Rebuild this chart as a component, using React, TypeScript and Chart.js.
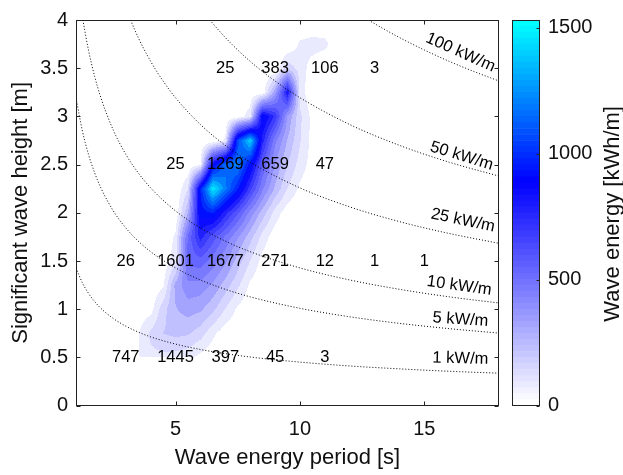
import React, { useEffect, useRef } from "react";
import { Chart, registerables } from "chart.js";

Chart.register(...registerables);

const FONT = "'Liberation Sans', Arial, Helvetica, sans-serif";
const INK = "#111111";

// ---- axes ----
const teAxisTicks = [5, 10, 15];
const hsAxisTicks = [0, 0.5, 1, 1.5, 2, 2.5, 3, 3.5, 4];
const colorbarTicks = [0, 500, 1000, 1500];
const energyMax = 1530;
const contourLevelCount = 20;

// ---- energy field (kWh/m) on a Te x Hs grid ----
const gridTe = [3, 3.5, 4, 4.5, 5, 5.5, 6, 6.5, 7, 7.5, 8, 8.5, 9, 9.5, 10, 10.5, 11, 11.5, 12];
const gridHs = [0.5, 0.75, 1, 1.25, 1.5, 1.75, 2, 2.25, 2.5, 2.75, 3, 3.25, 3.5, 3.75, 4];
const energyHs050 = [20, 70, 130, 130, 120, 100, 50, 20, 5, 0, 0, 0, 0, 0, 0, 0, 0, 0, 0];
const energyHs075 = [30, 70, 170, 230, 250, 240, 190, 95, 30, 5, 0, 0, 0, 0, 0, 0, 0, 0, 0];
const energyHs100 = [10, 30, 45, 200, 300, 340, 320, 250, 150, 60, 15, 0, 0, 0, 0, 0, 0, 0, 0];
const energyHs125 = [0, 10, 15, 60, 330, 440, 430, 370, 270, 170, 60, 15, 0, 0, 0, 0, 0, 0, 0];
const energyHs150 = [0, 0, 5, 20, 120, 560, 580, 500, 400, 270, 150, 45, 10, 0, 0, 0, 0, 0, 0];
const energyHs175 = [0, 0, 0, 10, 90, 550, 800, 650, 520, 390, 260, 120, 30, 0, 0, 0, 0, 0, 0];
const energyHs200 = [0, 0, 0, 0, 20, 300, 950, 1000, 800, 620, 430, 270, 120, 30, 0, 0, 0, 0, 0];
const energyHs225 = [0, 0, 0, 0, 5, 150, 1000, 1520, 1250, 1000, 720, 470, 290, 150, 60, 10, 0, 0, 0];
const energyHs250 = [0, 0, 0, 0, 0, 10, 70, 900, 1200, 1250, 950, 600, 380, 230, 120, 40, 0, 0, 0];
const energyHs275 = [0, 0, 0, 0, 0, 0, 0, 10, 90, 1100, 1450, 800, 480, 300, 160, 50, 0, 0, 0];
const energyHs300 = [0, 0, 0, 0, 0, 0, 0, 0, 0, 30, 120, 950, 750, 380, 170, 50, 0, 0, 0];
const energyHs325 = [0, 0, 0, 0, 0, 0, 0, 0, 0, 0, 10, 20, 350, 850, 120, 10, 0, 0, 0];
const energyHs350 = [0, 0, 0, 0, 0, 0, 0, 0, 0, 0, 0, 0, 0, 200, 120, 40, 0, 0, 0];
const energyHs375 = [0, 0, 0, 0, 0, 0, 0, 0, 0, 0, 0, 0, 0, 0, 90, 110, 100, 20, 0];
const energyHs400 = [0, 0, 0, 0, 0, 0, 0, 0, 0, 0, 0, 0, 0, 0, 0, 0, 0, 0, 0];
const energyGrid = [
  energyHs050, energyHs075, energyHs100, energyHs125, energyHs150, energyHs175, energyHs200,
  energyHs225, energyHs250, energyHs275, energyHs300, energyHs325, energyHs350, energyHs375, energyHs400,
];

// ---- binned totals written on the plot ----
const binTe = [3, 5, 7, 9, 11, 13, 15];
const binHs = [0.5, 1.5, 2.5, 3.5];
const binTotalsHs05 = [747, 1445, 397, 45, 3, null, null];
const binTotalsHs15 = [26, 1601, 1677, 271, 12, 1, 1];
const binTotalsHs25 = [null, 25, 1269, 659, 47, null, null];
const binTotalsHs35 = [null, null, 25, 383, 106, 3, null];
const binTotals = [binTotalsHs05, binTotalsHs15, binTotalsHs25, binTotalsHs35];

// ---- wave power isolines (kW/m) ----
const iso1Te = [1, 1.25, 1.5, 1.75, 2, 2.5, 3, 3.5, 4, 5, 6, 7, 8, 10, 12, 14, 16, 18];
const iso1Hs = [1.429, 1.278, 1.166, 1.08, 1.01, 0.904, 0.825, 0.764, 0.714, 0.639, 0.583, 0.54, 0.505, 0.452, 0.412, 0.382, 0.357, 0.337];
const iso5Te = [1, 1.25, 1.5, 1.75, 2, 2.5, 3, 3.5, 4, 5, 6, 7, 8, 10, 12, 14, 16, 18];
const iso5Hs = [3.194, 2.857, 2.608, 2.415, 2.259, 2.02, 1.844, 1.707, 1.597, 1.429, 1.304, 1.207, 1.129, 1.01, 0.922, 0.854, 0.799, 0.753];
const iso10Te = [1.2755, 1.5, 1.75, 2, 2.5, 3, 3.5, 4, 5, 6, 7, 8, 10, 12, 14, 16, 18];
const iso10Hs = [4.0, 3.689, 3.415, 3.194, 2.857, 2.608, 2.415, 2.259, 2.02, 1.844, 1.707, 1.597, 1.429, 1.304, 1.207, 1.129, 1.065];
const iso25Te = [3.189, 3.5, 4, 4.5, 5, 6, 7, 8, 10, 12, 14, 16, 18];
const iso25Hs = [4.0, 3.818, 3.571, 3.367, 3.194, 2.916, 2.7, 2.525, 2.259, 2.062, 1.909, 1.786, 1.684];
const iso50Te = [6.378, 7, 8, 9, 10, 12, 14, 16, 18];
const iso50Hs = [4.0, 3.818, 3.571, 3.367, 3.194, 2.916, 2.7, 2.525, 2.381];
const iso100Te = [12.755, 13, 14, 15, 16, 17, 18];
const iso100Hs = [4.0, 3.962, 3.818, 3.689, 3.571, 3.465, 3.367];
const isoLines = [
  [iso1Te, iso1Hs], [iso5Te, iso5Hs], [iso10Te, iso10Hs],
  [iso25Te, iso25Hs], [iso50Te, iso50Hs], [iso100Te, iso100Hs],
];

const isoLabelText = ["100 kW/m", "50 kW/m", "25 kW/m", "10 kW/m", "5 kW/m", "1 kW/m"];
const isoLabelTe = [16.45, 16.5, 16.55, 16.4, 16.45, 16.45];
const isoLabelHs = [3.663, 2.589, 1.921, 1.2425, 0.893, 0.488];
const isoLabelAngle = [24, 17, 12, 8, 4, 1.5];

// ---- colormap: white -> blue -> cyan ----
function cmap(f: number): [number, number, number] {
  const v = Math.max(0, Math.min(1, f));
  const knee = 0.58;
  if (v <= knee) {
    const t = v / knee;
    const c = Math.round(255 * (1 - t));
    return [c, c, 255];
  }
  const t = (v - knee) / (1 - knee);
  return [0, Math.round(255 * t), 255];
}
function cmapCss(f: number) {
  const [r, g, b] = cmap(f);
  return `rgb(${r},${g},${b})`;
}

function sampleEnergy(te: number, hs: number): number | null {
  const dTe = gridTe[1] - gridTe[0];
  const dHs = gridHs[1] - gridHs[0];
  const fx = (te - gridTe[0]) / dTe;
  const fy = (hs - gridHs[0]) / dHs;
  if (fx < 0 || fy < 0 || fx > gridTe.length - 1 || fy > gridHs.length - 1) return null;
  const i = Math.min(Math.floor(fx), gridTe.length - 2);
  const j = Math.min(Math.floor(fy), gridHs.length - 2);
  const tx = fx - i;
  const ty = fy - j;
  const r0 = energyGrid[j];
  const r1 = energyGrid[j + 1];
  const a = r0[i] * (1 - tx) + r0[i + 1] * tx;
  const b = r1[i] * (1 - tx) + r1[i + 1] * tx;
  return a * (1 - ty) + b * ty;
}

const contourPlugin = {
  id: "contourFill",
  beforeDatasetsDraw(chart: any) {
    const { ctx, chartArea, scales } = chart;
    const x = scales.x;
    const y = scales.y;
    const L = Math.round(chartArea.left);
    const T = Math.round(chartArea.top);
    const w = Math.round(chartArea.right) - L;
    const h = Math.round(chartArea.bottom) - T;
    const off = document.createElement("canvas");
    off.width = w;
    off.height = h;
    const octx = off.getContext("2d")!;
    const img = octx.createImageData(w, h);
    const step = energyMax / contourLevelCount;
    for (let py = 0; py < h; py++) {
      const hs = y.getValueForPixel(T + py + 0.5);
      for (let px = 0; px < w; px++) {
        const te = x.getValueForPixel(L + px + 0.5);
        const v = sampleEnergy(te, hs);
        if (v === null) continue;
        const k = Math.floor(v / step);
        if (k < 1) continue;
        const idx = Math.round(((k * step) / energyMax) * 63) / 63;
        const [r, g, b] = cmap(idx);
        const o = (py * w + px) * 4;
        img.data[o] = r;
        img.data[o + 1] = g;
        img.data[o + 2] = b;
        img.data[o + 3] = 255;
      }
    }
    octx.putImageData(img, 0, 0);
    ctx.save();
    ctx.drawImage(off, L, T);
    ctx.restore();
  },
};

const textPlugin = {
  id: "plotTexts",
  afterDatasetsDraw(chart: any) {
    const { ctx, scales } = chart;
    const x = scales.x;
    const y = scales.y;
    ctx.save();
    ctx.fillStyle = "#000";
    ctx.font = `16.5px ${FONT}`;
    ctx.textAlign = "center";
    ctx.textBaseline = "middle";
    binTotals.forEach((row, j) => {
      row.forEach((val, i) => {
        if (val === null) return;
        ctx.fillText(String(val), x.getPixelForValue(binTe[i]), y.getPixelForValue(binHs[j]));
      });
    });
    isoLabelText.forEach((t, i) => {
      ctx.save();
      ctx.translate(x.getPixelForValue(isoLabelTe[i]), y.getPixelForValue(isoLabelHs[i]));
      ctx.rotate((isoLabelAngle[i] * Math.PI) / 180);
      ctx.fillText(t, 0, 0);
      ctx.restore();
    });
    ctx.restore();
  },
};

const framePlugin = {
  id: "frame",
  afterDraw(chart: any) {
    const { ctx, chartArea, scales } = chart;
    const x = scales.x;
    const y = scales.y;
    const l = Math.round(chartArea.left) + 0.5;
    const r = Math.round(chartArea.right) - 0.5;
    const t = Math.round(chartArea.top) + 0.5;
    const b = Math.round(chartArea.bottom) - 0.5;
    ctx.save();
    ctx.strokeStyle = "#222";
    ctx.lineWidth = 1;
    ctx.setLineDash([]);
    ctx.strokeRect(l, t, r - l, b - t);
    ctx.beginPath();
    teAxisTicks.forEach((v) => {
      const px = Math.round(x.getPixelForValue(v)) + 0.5;
      ctx.moveTo(px, b);
      ctx.lineTo(px, b - 4);
      ctx.moveTo(px, t);
      ctx.lineTo(px, t + 4);
    });
    hsAxisTicks.forEach((v) => {
      const py = Math.round(y.getPixelForValue(v)) + 0.5;
      ctx.moveTo(l, py);
      ctx.lineTo(l + 4, py);
      ctx.moveTo(r, py);
      ctx.lineTo(r - 4, py);
    });
    ctx.stroke();
    ctx.restore();
  },
};

const colorbarPlugin = {
  id: "colorbarFrame",
  afterDraw(chart: any) {
    const { ctx, chartArea, scales } = chart;
    const y = scales.y;
    const l = Math.round(chartArea.left) + 0.5;
    const r = Math.round(chartArea.right) - 0.5;
    const t = Math.round(chartArea.top) + 0.5;
    const b = Math.round(chartArea.bottom) - 0.5;
    ctx.save();
    ctx.strokeStyle = "#222";
    ctx.lineWidth = 1;
    ctx.strokeRect(l, t, r - l, b - t);
    ctx.beginPath();
    colorbarTicks.forEach((v) => {
      const py = Math.round(y.getPixelForValue(v)) + 0.5;
      ctx.moveTo(r, py);
      ctx.lineTo(r - 3, py);
    });
    ctx.stroke();
    ctx.fillStyle = INK;
    ctx.font = `22px ${FONT}`;
    ctx.textAlign = "center";
    ctx.textBaseline = "middle";
    ctx.translate(113, (chartArea.top + chartArea.bottom) / 2 + 1);
    ctx.rotate(-Math.PI / 2);
    ctx.fillText("Wave energy [kWh/m]", 0, 0);
    ctx.restore();
  },
};

export default function App() {
  const mainRef = useRef<HTMLCanvasElement>(null);
  const cbRef = useRef<HTMLCanvasElement>(null);

  useEffect(() => {
    const tickFont = { family: FONT, size: 20 };
    const titleFont = { family: FONT, size: 22 };

    const main = new Chart(mainRef.current!, {
      type: "scatter",
      data: {
        datasets: isoLines.map(([te, hs]) => ({
          data: te.map((t, i) => ({ x: t, y: hs[i] })),
          showLine: true,
          pointRadius: 0,
          borderColor: "#000",
          borderWidth: 1,
          borderDash: [1, 2],
          cubicInterpolationMode: "monotone",
          fill: false,
        })),
      },
      options: {
        responsive: false,
        animation: false,
        events: [],
        layout: { padding: { left: 7.5, right: 124, top: 10.7, bottom: 3.8 } },
        plugins: { legend: { display: false }, tooltip: { enabled: false } },
        scales: {
          x: {
            type: "linear",
            min: 1,
            max: 18,
            afterBuildTicks: (s: any) => {
              s.ticks = teAxisTicks.map((v) => ({ value: v }));
            },
            afterFit: (s: any) => {
              s.height = 65.5;
            },
            grid: { display: false, drawTicks: false },
            border: { display: false },
            ticks: { font: tickFont, color: INK, padding: 12, maxRotation: 0, callback: (v: any) => String(v) },
            title: { display: true, text: "Wave energy period [s]", font: titleFont, color: INK, padding: 0 },
          },
          y: {
            type: "linear",
            min: 0,
            max: 4,
            afterBuildTicks: (s: any) => {
              s.ticks = hsAxisTicks.map((v) => ({ value: v }));
            },
            afterFit: (s: any) => {
              s.width = 68.5;
            },
            grid: { display: false, drawTicks: false },
            border: { display: false },
            ticks: { font: tickFont, color: INK, padding: 8, callback: (v: any) => String(v) },
            title: { display: true, text: "Significant wave height [m]", font: titleFont, color: INK, padding: 0 },
          },
        },
      },
      plugins: [contourPlugin, textPlugin, framePlugin],
    } as any);

    const bandCount = 64;
    const bands = Array.from({ length: bandCount }, (_, i) => i);
    const cb = new Chart(cbRef.current!, {
      type: "bar",
      data: {
        labels: [""],
        datasets: bands.map((i) => ({
          data: [[(i * energyMax) / bandCount, ((i + 1) * energyMax) / bandCount]],
          backgroundColor: cmapCss(i / (bandCount - 1)),
          borderWidth: 0,
          grouped: false,
          barPercentage: 1,
          categoryPercentage: 1,
        })),
      },
      options: {
        responsive: false,
        animation: false,
        events: [],
        layout: { padding: { left: 12, right: 0, top: 10.7, bottom: 69.3 } },
        plugins: { legend: { display: false }, tooltip: { enabled: false } },
        scales: {
          x: { display: false },
          y: {
            position: "right",
            min: 0,
            max: energyMax,
            afterBuildTicks: (s: any) => {
              s.ticks = colorbarTicks.map((v) => ({ value: v }));
            },
            afterFit: (s: any) => {
              s.width = 83;
            },
            grid: { display: false, drawTicks: false },
            border: { display: false },
            ticks: { font: tickFont, color: INK, padding: 8, callback: (v: any) => String(v) },
          },
        },
      },
      plugins: [colorbarPlugin],
    } as any);

    return () => {
      main.destroy();
      cb.destroy();
    };
  }, []);

  return (
    <div style={{ position: "fixed", left: 0, top: 0, width: 623, height: 475, background: "#fff" }}>
      <canvas
        ref={mainRef}
        width={623}
        height={475}
        style={{ position: "absolute", left: 0, top: 0, width: 623, height: 475 }}
      />
      <canvas
        ref={cbRef}
        width={123}
        height={475}
        style={{ position: "absolute", left: 500, top: 0, width: 123, height: 475 }}
      />
    </div>
  );
}
